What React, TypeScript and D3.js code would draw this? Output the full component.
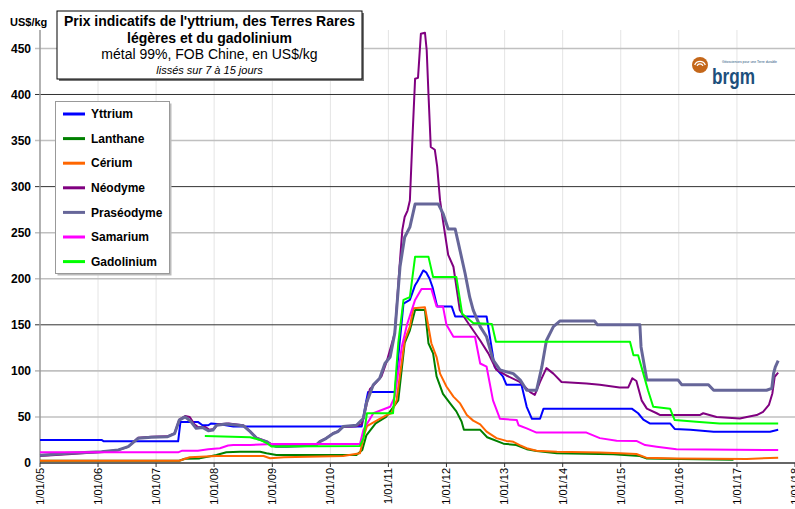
import React, { useRef, useEffect } from 'react';
import * as d3 from 'd3';

type Pt = [number, number]; // [fractional year, US$/kg]

const yttrium: Pt[] = [
    [2005.0, 25], [2006.06, 25], [2006.1, 23.5], [2007.38, 23.5], [2007.42, 44.6], [2007.72, 44.6], [2007.8, 41],
    [2007.9, 41], [2007.95, 43], [2008.1, 42], [2008.33, 39.5], [2010.54, 39.5], [2010.62, 68], [2010.65, 77],
    [2011.11, 77], [2011.26, 173], [2011.37, 177], [2011.46, 193], [2011.5, 197], [2011.6, 209], [2011.65, 207],
    [2011.71, 200], [2011.76, 191], [2011.84, 170], [2012.09, 170], [2012.15, 159], [2012.69, 159], [2012.83, 104],
    [2012.97, 94], [2013.03, 85], [2013.29, 85], [2013.38, 61], [2013.47, 48], [2013.61, 48], [2013.67, 59],
    [2015.19, 59], [2015.3, 54], [2015.39, 47], [2015.5, 43], [2015.85, 43], [2015.93, 37], [2016.2, 36],
    [2016.6, 34], [2017.57, 34], [2017.71, 36],
];

const lanthane: Pt[] = [
    [2005.0, 2.5], [2007.4, 2.5], [2007.5, 4.6], [2007.75, 5], [2008.04, 8.7], [2008.21, 11.6], [2008.44, 12.3],
    [2008.79, 12.3], [2008.9, 10.5], [2009.07, 8.7], [2010.45, 8.7], [2010.55, 14], [2010.62, 30], [2010.78, 43],
    [2010.96, 50], [2011.17, 68], [2011.28, 130], [2011.37, 144], [2011.46, 166], [2011.63, 166], [2011.69, 130],
    [2011.77, 119], [2011.83, 94], [2011.94, 75], [2012.06, 65], [2012.17, 56], [2012.26, 45], [2012.3, 36],
    [2012.58, 36], [2012.7, 28], [2012.98, 21], [2013.2, 19.5], [2013.38, 15], [2013.55, 13], [2013.9, 10.5],
    [2014.87, 9.4], [2015.33, 7.6], [2015.44, 5], [2016.02, 4.3], [2016.94, 3.5],
];

const cerium: Pt[] = [
    [2005.0, 2.5], [2007.4, 2.5], [2007.5, 4.6], [2007.58, 6.2], [2008.04, 7.6], [2008.85, 7.6], [2008.96, 5.1],
    [2009.2, 6.2], [2010.22, 7.6], [2010.51, 10.5], [2010.58, 30], [2010.63, 40], [2010.85, 48], [2010.97, 52],
    [2011.05, 54], [2011.14, 68], [2011.28, 133], [2011.37, 148], [2011.43, 168], [2011.63, 169], [2011.67, 155],
    [2011.74, 130], [2011.83, 115], [2011.89, 97], [2012.0, 83], [2012.12, 72], [2012.23, 65], [2012.35, 52],
    [2012.46, 46], [2012.58, 42], [2012.69, 34], [2012.86, 27], [2013.03, 24], [2013.15, 23], [2013.26, 19.5],
    [2013.38, 16], [2013.55, 13.3], [2013.9, 12.3], [2014.64, 11.5], [2014.99, 10.5], [2015.27, 9.7],
    [2015.44, 5.8], [2015.96, 5], [2017.17, 4.3], [2017.71, 5.8],
];

const neodyme: Pt[] = [
    [2005.0, 7.5], [2005.48, 9.5], [2006.06, 12], [2006.35, 14], [2006.52, 17.5], [2006.69, 27.5], [2006.92, 28.6],
    [2007.2, 29], [2007.32, 32.5], [2007.4, 47], [2007.5, 51], [2007.58, 50], [2007.66, 42], [2007.72, 39],
    [2007.85, 39], [2007.92, 36], [2008.0, 37], [2008.06, 42], [2008.25, 43], [2008.5, 41], [2008.62, 34.5],
    [2008.73, 27.5], [2008.9, 23.5], [2008.99, 20], [2009.07, 18.2], [2009.25, 18.2], [2009.76, 20],
    [2009.82, 23.5], [2009.93, 27], [2010.05, 32.5], [2010.13, 34.5], [2010.22, 39], [2010.45, 40], [2010.54, 42],
    [2010.62, 62], [2010.68, 80], [2010.8, 88], [2010.88, 94], [2010.97, 110], [2011.11, 141], [2011.2, 220],
    [2011.24, 253], [2011.28, 267], [2011.33, 274], [2011.37, 285], [2011.42, 361], [2011.46, 417], [2011.51, 418],
    [2011.56, 466], [2011.63, 467], [2011.66, 448], [2011.69, 401], [2011.73, 343], [2011.8, 340], [2011.84, 322],
    [2011.89, 285], [2011.94, 263], [2012.03, 226], [2012.12, 213], [2012.23, 166], [2012.34, 155], [2012.58, 133],
    [2012.72, 119], [2012.86, 101], [2013.03, 95], [2013.26, 88], [2013.44, 77], [2013.52, 74], [2013.61, 88],
    [2013.72, 103], [2013.84, 97], [2013.98, 88], [2014.41, 86.4], [2014.64, 85], [2014.98, 82], [2015.13, 82],
    [2015.2, 92], [2015.27, 89], [2015.36, 68], [2015.45, 59], [2015.62, 54], [2015.68, 52], [2016.36, 52],
    [2016.42, 54], [2016.65, 50], [2017.05, 48.4], [2017.17, 50], [2017.34, 52], [2017.45, 55.6], [2017.55, 63],
    [2017.61, 75.5], [2017.65, 93.6], [2017.71, 98],
];

const praseodyme: Pt[] = [
    [2005.0, 8.5], [2005.48, 10.5], [2006.06, 12.3], [2006.35, 14.2], [2006.52, 17.8], [2006.69, 26.8],
    [2006.92, 28], [2007.2, 28.6], [2007.32, 32], [2007.4, 46.6], [2007.5, 50], [2007.6, 45], [2007.69, 37.6],
    [2007.8, 38.5], [2007.9, 35], [2007.98, 35.8], [2008.04, 41], [2008.21, 42.4], [2008.5, 40.5], [2008.62, 34],
    [2008.73, 26.8], [2008.9, 23.2], [2008.99, 19.6], [2009.07, 17.8], [2009.25, 17.8], [2009.76, 19.6],
    [2009.82, 23.2], [2009.93, 26.8], [2010.05, 32], [2010.13, 34], [2010.22, 39.5], [2010.45, 41],
    [2010.57, 48.5], [2010.62, 65], [2010.74, 85], [2010.85, 92], [2010.94, 108], [2011.03, 115], [2011.11, 141],
    [2011.2, 213], [2011.28, 245], [2011.37, 256], [2011.46, 281], [2011.86, 281], [2011.94, 271], [2012.03, 254],
    [2012.15, 254], [2012.2, 240], [2012.32, 206], [2012.4, 180], [2012.46, 166], [2012.58, 148], [2012.69, 137],
    [2012.8, 112], [2012.92, 101], [2013.15, 97], [2013.27, 90], [2013.38, 79], [2013.55, 79], [2013.64, 104],
    [2013.72, 133], [2013.84, 148], [2013.95, 154], [2014.55, 154], [2014.6, 150], [2015.33, 150], [2015.35, 126],
    [2015.45, 90], [2015.99, 90], [2016.05, 85], [2016.51, 85], [2016.6, 79], [2017.51, 79], [2017.6, 81],
    [2017.63, 97], [2017.66, 104], [2017.71, 111],
];

const samarium: Pt[] = [
    [2005.0, 11.6], [2007.38, 11.6], [2007.45, 13.4], [2007.72, 13.4], [2007.9, 14.8], [2008.0, 15.5],
    [2008.1, 16], [2008.24, 19], [2008.33, 19.6], [2008.62, 19.6], [2009.02, 20.7], [2010.51, 20.7],
    [2010.57, 36], [2010.74, 54], [2011.03, 61], [2011.11, 72], [2011.23, 126], [2011.32, 150], [2011.46, 177],
    [2011.57, 189], [2011.74, 189], [2011.83, 170], [2011.94, 170], [2012.0, 150], [2012.12, 137], [2012.49, 137],
    [2012.58, 108], [2012.69, 104.5], [2012.8, 68], [2012.92, 48], [2013.21, 46.6], [2013.24, 41], [2013.38, 37.6],
    [2013.55, 33], [2014.41, 33], [2014.64, 27], [2014.93, 24.2], [2015.27, 24], [2015.42, 19.5], [2015.62, 17.7],
    [2015.96, 14.8], [2017.71, 14],
];

const gadolinium: Pt[] = [
    [2007.84, 29.3], [2008.62, 27.9], [2008.79, 25], [2008.92, 21], [2008.99, 17.8], [2010.51, 18.5],
    [2010.57, 27], [2010.63, 54], [2011.08, 54], [2011.17, 130], [2011.26, 177], [2011.37, 180], [2011.46, 224],
    [2011.69, 224], [2011.77, 202], [2012.17, 202], [2012.27, 162], [2012.46, 152], [2012.78, 151],
    [2012.85, 131.6], [2015.16, 131.5], [2015.22, 117], [2015.3, 117], [2015.39, 97], [2015.47, 79],
    [2015.56, 61], [2015.85, 59], [2015.93, 46.6], [2016.3, 44.8], [2016.7, 43], [2017.71, 43],
];

const seriesNames = ['Yttrium', 'Lanthane', 'Cérium', 'Néodyme', 'Praséodyme', 'Samarium', 'Gadolinium'];
const seriesColors = ['#0000ff', '#008000', '#ff6600', '#800080', '#666699', '#ff00ff', '#00ff00'];
const seriesWidths = [2, 2, 2, 2, 3, 2, 2];
const seriesData = [yttrium, lanthane, cerium, neodyme, praseodyme, samarium, gadolinium];

const yTicks = [0, 50, 100, 150, 200, 250, 300, 350, 400, 450];
const darkGrid = [150, 300, 400];
const xYears = d3.range(2005, 2019);

const titleLines = [
    "Prix indicatifs de l'yttrium, des Terres Rares",
    'légères et du gadolinium',
    'métal 99%, FOB Chine, en US$/kg',
    'lissés sur 7 à 15 jours',
];

const toDate = (yr: number) => {
    const y = Math.floor(yr);
    const start = Date.UTC(y, 0, 1);
    const end = Date.UTC(y + 1, 0, 1);
    return new Date(start + (yr - y) * (end - start));
};

const W = 795;
const H = 509;
const FONT = '"Liberation Sans", Arial, sans-serif';

const App: React.FC = () => {
    const svgRef = useRef<SVGSVGElement>(null);

    useEffect(() => {
        if (!svgRef.current) return;
        const svg = d3.select(svgRef.current);
        svg.selectAll('*').remove();

        const x = d3.scaleUtc()
            .domain([toDate(2005), toDate(2018)])
            .range([40, 795]);
        const y = d3.scaleLinear()
            .domain([0, 470])
            .range([463, 30]);

        svg.append('rect').attr('width', W).attr('height', H).attr('fill', '#fff');

        // vertical year grid (very faint)
        xYears.slice(1, -1).forEach(yr => {
            svg.append('line')
                .attr('x1', x(toDate(yr))).attr('x2', x(toDate(yr)))
                .attr('y1', y(470)).attr('y2', y(0))
                .attr('stroke', '#e4e4e4').attr('stroke-width', 1);
        });

        // horizontal grid
        yTicks.slice(1).forEach(v => {
            const dark = darkGrid.includes(v);
            svg.append('line')
                .attr('x1', 35).attr('x2', W)
                .attr('y1', y(v)).attr('y2', y(v))
                .attr('stroke', dark ? '#333' : '#c0c0c0')
                .attr('stroke-width', dark ? 1 : 1.6);
        });

        // axes
        svg.append('line')
            .attr('x1', 40).attr('x2', 40).attr('y1', y(470)).attr('y2', y(0))
            .attr('stroke', '#999').attr('stroke-width', 1.5);
        svg.append('line')
            .attr('x1', 40).attr('x2', W).attr('y1', y(0)).attr('y2', y(0))
            .attr('stroke', '#333').attr('stroke-width', 1.5);

        yTicks.forEach(v => {
            svg.append('text')
                .attr('x', 31).attr('y', y(v)).attr('dy', '0.35em')
                .attr('text-anchor', 'end')
                .attr('font-family', FONT).attr('font-size', 12).attr('font-weight', 'bold')
                .text(v);
        });

        xYears.forEach(yr => {
            const px = x(toDate(yr));
            svg.append('line')
                .attr('x1', px).attr('x2', px).attr('y1', y(0)).attr('y2', y(0) + 4)
                .attr('stroke', '#333');
            svg.append('text')
                .attr('transform', `translate(${px},${y(0) + 5}) rotate(-90)`)
                .attr('dy', '0.35em')
                .attr('text-anchor', 'end')
                .attr('font-family', FONT).attr('font-size', 11)
                .text(`1/01/${String(yr).slice(2)}`);
        });

        svg.append('text')
            .attr('x', 10).attr('y', 26)
            .attr('font-family', FONT).attr('font-size', 11).attr('font-weight', 'bold')
            .text('US$/kg');

        // series
        const line = d3.line<Pt>()
            .x(d => x(toDate(d[0])))
            .y(d => y(d[1]));
        seriesData.forEach((data, i) => {
            svg.append('path')
                .attr('d', line(data))
                .attr('fill', 'none')
                .attr('stroke', seriesColors[i])
                .attr('stroke-width', seriesWidths[i])
                .attr('stroke-linejoin', 'round');
        });

        // title box
        svg.append('rect')
            .attr('x', 59).attr('y', 13).attr('width', 305).attr('height', 68)
            .attr('fill', '#777');
        svg.append('rect')
            .attr('x', 57).attr('y', 11).attr('width', 305).attr('height', 68)
            .attr('fill', '#fff').attr('stroke', '#000').attr('stroke-width', 1);
        const tx = 209.5;
        const titleY = [25.5, 42.5, 59, 74];
        titleLines.forEach((t, i) => {
            svg.append('text')
                .attr('x', tx).attr('y', titleY[i])
                .attr('text-anchor', 'middle')
                .attr('font-family', FONT)
                .attr('font-size', i === 3 ? 11 : 14)
                .attr('font-weight', i < 2 ? 'bold' : 'normal')
                .attr('font-style', i === 3 ? 'italic' : 'normal')
                .text(t);
        });

        // legend
        svg.append('rect')
            .attr('x', 57.5).attr('y', 103.5).attr('width', 114).attr('height', 172)
            .attr('fill', '#bbb');
        svg.append('rect')
            .attr('x', 55.5).attr('y', 101.5).attr('width', 114).attr('height', 172)
            .attr('fill', '#fff').attr('stroke', '#999').attr('stroke-width', 1);
        seriesNames.forEach((name, i) => {
            const ly = 114 + i * 24.6;
            svg.append('line')
                .attr('x1', 63).attr('x2', 85).attr('y1', ly).attr('y2', ly)
                .attr('stroke', seriesColors[i]).attr('stroke-width', 3);
            svg.append('text')
                .attr('x', 91).attr('y', ly).attr('dy', '0.35em')
                .attr('font-family', FONT).attr('font-size', 12).attr('font-weight', 'bold')
                .text(name);
        });

        // brgm logo
        const logo = svg.append('g');
        logo.append('circle').attr('cx', 700).attr('cy', 65).attr('r', 8)
            .attr('fill', '#c4671a');
        [2.5, 5].forEach(r => {
            logo.append('path')
                .attr('d', d3.arc()({ innerRadius: r, outerRadius: r + 1.3, startAngle: -Math.PI / 2.6, endAngle: Math.PI / 2.6 }) as string)
                .attr('transform', 'translate(700,67)')
                .attr('fill', '#fff');
        });
        logo.append('text')
            .attr('x', 712).attr('y', 84)
            .attr('font-family', FONT).attr('font-size', 22).attr('font-weight', 'bold')
            .attr('textLength', 43).attr('lengthAdjust', 'spacingAndGlyphs')
            .attr('fill', '#1d4f7c')
            .text('brgm');
        logo.append('text')
            .attr('x', 722).attr('y', 62.5)
            .attr('font-family', FONT).attr('font-size', 3.5)
            .attr('textLength', 55).attr('lengthAdjust', 'spacingAndGlyphs')
            .attr('fill', '#1d4f7c')
            .text('Géosciences pour une Terre durable');
    }, []);

    return (
        <div style={{ position: 'absolute', left: 0, top: 0 }}>
            <svg ref={svgRef} width={W} height={H} style={{ display: 'block' }} />
        </div>
    );
};

export default App;
